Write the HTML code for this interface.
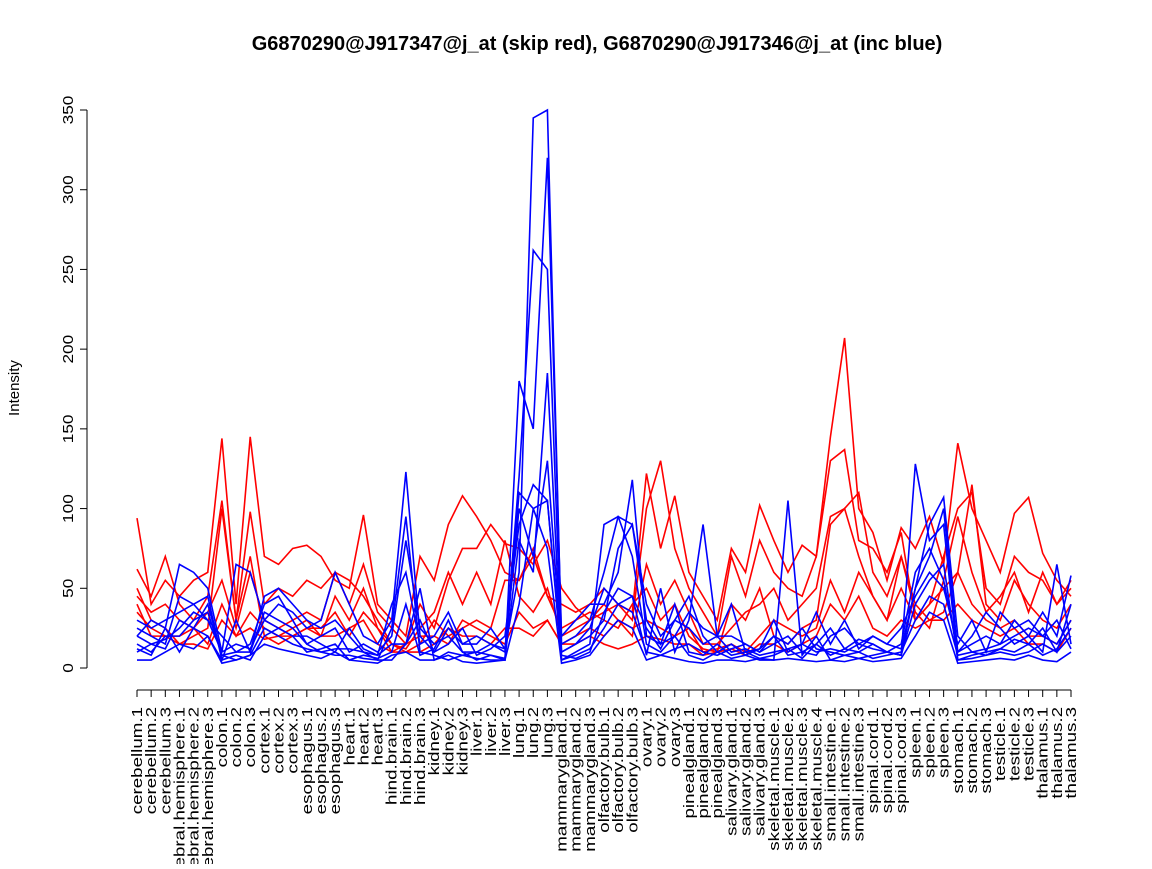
<!DOCTYPE html>
<html><head><meta charset="utf-8"><style>
body{margin:0;background:#fff}
svg text{font-family:"Liberation Sans",sans-serif}
</style></head><body>
<svg id="chart" width="1152" height="864">
<text x="597" y="50" text-anchor="middle" font-size="20" font-weight="bold">G6870290@J917347@j_at (skip red), G6870290@J917346@j_at (inc blue)</text>
<text transform="translate(19,388) rotate(-90)" text-anchor="middle" font-size="15">Intensity</text>
<g id="yaxis"></g>
<g id="xaxis"></g>
<g id="series"></g>
</svg>
<script>
const groups=["cerebellum","cerebral.hemisphere","colon","cortex","esophagus","heart","hind.brain","kidney","liver","lung","mammarygland","olfactory.bulb","ovary","pinealgland","salivary.gland","skeletal.muscle","small.intestine","spinal.cord","spleen","stomach","testicle","thalamus"];
const categories=[];
groups.forEach(g=>{const n=g==="skeletal.muscle"?4:3;for(let i=1;i<=n;i++)categories.push(g+"."+i);});
const yTicks=[0,50,100,150,200,250,300,350];
const red1=[94,40,55,45,55,60,144,40,145,70,65,75,77,70,55,50,96,40,30,20,70,55,90,108,95,80,60,55,75,45,40,35,40,50,40,35,122,75,108,60,45,30,75,60,102,80,60,77,70,145,207,100,85,55,88,75,95,65,141,100,80,60,97,107,72,55,45];
const red2=[62,45,70,40,30,45,105,30,98,40,50,45,55,50,60,40,65,35,25,15,40,25,55,75,75,90,78,75,65,80,50,38,30,35,40,30,100,130,75,50,35,20,70,45,80,60,50,45,70,130,137,80,75,60,85,30,40,70,100,110,50,40,70,60,55,40,55];
const red3=[45,35,40,30,25,35,55,25,60,30,25,30,35,30,60,55,45,30,15,12,25,35,60,40,60,40,80,45,35,50,20,25,30,40,30,20,65,40,55,35,15,15,25,35,40,50,30,40,50,95,100,110,60,45,70,40,30,35,60,115,40,30,55,40,30,25,40];
const red4=[35,25,20,20,25,15,40,20,35,25,20,25,30,20,20,25,30,15,10,15,20,20,15,30,25,20,15,35,25,30,15,20,25,20,30,25,30,25,20,25,10,12,15,10,20,30,25,20,25,55,35,60,45,30,50,30,40,50,60,40,30,25,30,20,20,15,30];
const red5=[50,30,25,15,20,25,100,30,70,20,15,20,25,20,45,30,50,25,15,10,15,30,20,25,30,25,55,55,70,45,25,30,35,30,25,40,50,30,40,20,12,10,40,30,50,20,15,25,30,90,100,70,45,30,70,35,25,55,95,60,35,45,60,35,60,40,50];
const red6=[40,20,20,15,15,12,30,20,25,18,20,20,25,25,35,20,35,25,10,10,10,15,25,20,20,15,25,25,20,30,15,15,20,15,12,15,20,18,15,15,8,10,12,8,15,15,10,15,20,40,30,45,25,20,30,25,30,30,40,30,25,20,25,15,15,10,25];
const blue1=[25,20,15,45,40,30,20,10,15,40,45,30,15,20,25,10,15,10,20,80,25,15,20,10,10,15,12,60,345,350,15,20,30,60,95,90,40,20,30,25,15,20,10,12,8,10,12,15,10,12,10,15,20,15,12,50,70,100,10,15,20,15,20,25,20,15,30];
const blue2=[20,30,25,65,60,50,10,65,60,30,40,35,25,30,60,40,20,15,30,123,20,10,25,15,20,15,10,120,262,250,10,15,20,30,75,90,30,15,40,10,8,15,8,10,6,8,12,6,15,8,12,10,15,10,8,128,80,90,5,8,10,12,10,15,8,12,25];
const blue3=[30,25,30,35,40,45,5,30,10,45,50,40,30,25,30,20,10,8,15,15,50,5,10,8,10,8,5,180,150,320,20,30,40,40,60,118,20,15,20,35,25,20,20,15,10,15,20,10,8,20,25,15,12,10,15,60,75,55,10,20,35,25,15,20,35,20,58];
const blue4=[15,10,20,20,30,35,8,5,8,25,20,15,12,10,8,8,6,5,25,95,10,8,5,8,6,5,5,110,100,105,5,10,15,90,95,70,15,10,20,8,5,10,6,8,5,5,105,8,20,5,8,6,8,10,8,40,55,65,5,6,8,10,8,10,15,10,20];
const blue5=[10,15,12,30,25,20,5,8,5,20,25,20,10,12,15,5,8,6,10,40,8,12,30,10,5,8,6,80,60,185,5,8,12,25,40,35,10,8,12,15,10,8,12,15,10,20,15,25,12,10,8,10,6,8,10,30,45,40,8,10,12,15,30,20,10,65,15];
const blue6=[5,5,10,15,12,20,3,5,8,15,12,10,8,6,10,5,4,3,8,10,5,5,8,4,3,4,5,40,100,75,3,5,8,20,30,25,5,8,6,4,3,5,5,4,6,5,6,5,4,5,4,6,4,5,6,20,35,30,3,4,5,6,5,8,5,4,10];
const blue7=[20,15,18,25,35,30,10,15,12,30,25,20,20,15,10,25,12,8,40,60,15,20,35,15,15,25,12,100,70,130,10,15,25,50,40,45,25,12,30,45,20,10,15,8,12,30,10,15,35,15,30,12,20,15,25,45,60,50,15,30,10,35,25,30,20,30,12];
const blue8=[12,8,25,10,25,40,8,10,10,35,30,25,15,10,12,12,10,5,5,15,30,10,15,25,8,12,20,90,115,105,8,6,10,35,50,45,8,50,10,30,90,20,40,10,12,20,8,10,15,25,12,18,15,10,8,50,90,107,20,10,8,12,18,15,25,10,40];
const redSeries=[red1,red2,red3,red4,red5,red6];
const blueSeries=[blue1,blue2,blue3,blue4,blue5,blue6,blue7,blue8];

const NS="http://www.w3.org/2000/svg";
const x0=137,x1=1071,y0=668,y350=110;
const xs=i=>x0+i*(x1-x0)/(categories.length-1);
const ys=v=>y0-v*(y0-y350)/350;
function mk(tag,attrs,parent){const e=document.createElementNS(NS,tag);for(const k in attrs)e.setAttribute(k,attrs[k]);parent.appendChild(e);return e;}

const ya=document.getElementById('yaxis');
let l=mk('line',{x1:87,x2:87,y1:ys(350),y2:ys(0),stroke:'#000'},ya);


yTicks.forEach(t=>{
  const tk=mk('line',{x1:80,x2:87,y1:ys(t),y2:ys(t),stroke:'#000'},ya);
  
  
  const tx=mk('text',{transform:`translate(73,${ys(t)}) rotate(-90) scale(1.15,1)`,'text-anchor':'middle','font-size':15},ya);
  tx.textContent=t;
  
  
});
const xa=document.getElementById('xaxis');
l=mk('line',{x1:x0,x2:x1,y1:690,y2:690,stroke:'#000'},xa);


categories.forEach((c,i)=>{
  const tk=mk('line',{x1:xs(i),x2:xs(i),y1:690,y2:697,stroke:'#000'},xa);
  
  
  const tx=mk('text',{transform:`translate(${xs(i)+5},707) rotate(-90) scale(1.25,1)`,'text-anchor':'end','font-size':15},xa);
  tx.textContent=c;
  
  
});
const sg=document.getElementById('series');
function draw(arr,color,name){
  const p=mk('polyline',{points:arr.map((v,i)=>xs(i)+','+ys(v)).join(' '),fill:'none',stroke:color,'stroke-width':1.6},sg);
  
  
}
redSeries.forEach((s,i)=>draw(s,'#ff0000','red-series-'+(i+1)));
blueSeries.forEach((s,i)=>draw(s,'#0000ff','blue-series-'+(i+1)));
</script>
</body></html>
